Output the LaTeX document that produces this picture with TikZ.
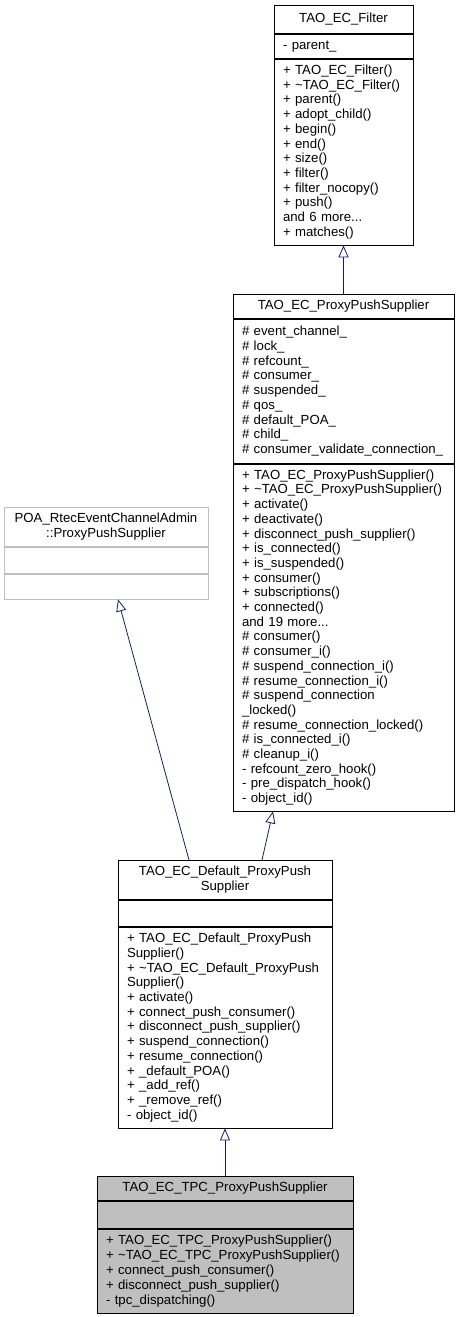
\documentclass[tikz,border=0pt]{standalone}
\usepackage{fontspec}
\setmainfont{Liberation Sans}
\usetikzlibrary{arrows.meta}
\definecolor{edgeblue}{HTML}{191970}
\definecolor{classgray}{HTML}{BFBFBF}

\begin{document}
\begin{tikzpicture}[x=1pt, y=-1pt,
	classpart/.style={draw=black, line width=0.8pt, anchor=north, inner xsep=9pt, inner ysep=0pt, font=\fontsize{13.2}{14.7}\selectfont},
	members/.style={classpart, text width=#1, align=left},
	inherit/.style={-{Triangle[open, length=12pt, width=10pt]}, draw=edgeblue, line width=0.8pt}]
	\useasboundingbox (0,0) rectangle (460,1317);
	
	%TAO_EC_Filter
	\node (filter title) at (343.5,5) [classpart, minimum width=139pt, minimum height=28pt]{TAO\_EC\_Filter};
	\node (filter attrs) at (filter title.south) [members=121pt, minimum height=24pt]{-~parent\_};
	\node (filter ops) at (filter attrs.south) [members=121pt, minimum height=186pt]{+~TAO\_EC\_Filter()\\ +~\textasciitilde TAO\_EC\_Filter()\\ +~parent()\\ +~adopt\_child()\\ +~begin()\\ +~end()\\ +~size()\\ +~filter()\\ +~filter\_nocopy()\\ +~push()\\ and 6 more...\\ +~matches()};
	
	%TAO_EC_ProxyPushSupplier
	\node (pps title) at (343.5,294) [classpart, minimum width=221pt, minimum height=24pt]{TAO\_EC\_ProxyPushSupplier};
	\node (pps attrs) at (pps title.south) [members=203pt, minimum height=144pt]{\#~event\_channel\_\\ \#~lock\_\\ \#~refcount\_\\ \#~consumer\_\\ \#~suspended\_\\ \#~qos\_\\ \#~default\_POA\_\\ \#~child\_\\ \#~\mbox{consumer\_validate\_connection\_}};
	\node (pps ops) at (pps attrs.south) [members=203pt, minimum height=347pt]{+~TAO\_EC\_ProxyPushSupplier()\\ +~\textasciitilde TAO\_EC\_ProxyPushSupplier()\\ +~activate()\\ +~deactivate()\\ +~disconnect\_push\_supplier()\\ +~is\_connected()\\ +~is\_suspended()\\ +~consumer()\\ +~subscriptions()\\ +~connected()\\ and 19 more...\\ \#~consumer()\\ \#~consumer\_i()\\ \#~suspend\_connection\_i()\\ \#~resume\_connection\_i()\\ \#~suspend\_connection\\ \_locked()\\ \#~resume\_connection\_locked()\\ \#~is\_connected\_i()\\ \#~cleanup\_i()\\ -~refcount\_zero\_hook()\\ -~pre\_dispatch\_hook()\\ -~object\_id()};
	
	%POA_RtecEventChannelAdmin::ProxyPushSupplier
	\node (poa title) at (106,507) [classpart, draw=classgray, minimum width=204pt, minimum height=39pt, align=center]{POA\_RtecEventChannelAdmin\\ ::ProxyPushSupplier};
	\node (poa attrs) at (poa title.south) [classpart, draw=classgray, minimum width=204pt, minimum height=26pt]{};
	\node (poa ops) at (poa attrs.south) [classpart, draw=classgray, minimum width=204pt, minimum height=25pt]{};
	
	%TAO_EC_Default_ProxyPushSupplier
	\node (default title) at (225,860) [classpart, minimum width=214pt, minimum height=39pt, align=center]{TAO\_EC\_Default\_ProxyPush\\ Supplier};
	\node (default attrs) at (default title.south) [classpart, minimum width=214pt, minimum height=26pt]{};
	\node (default ops) at (default attrs.south) [members=196pt, minimum height=201pt]{+~TAO\_EC\_Default\_ProxyPush\\ Supplier()\\ +~\textasciitilde TAO\_EC\_Default\_ProxyPush\\ Supplier()\\ +~activate()\\ +~connect\_push\_consumer()\\ +~disconnect\_push\_supplier()\\ +~suspend\_connection()\\ +~resume\_connection()\\ +~\_default\_POA()\\ +~\_add\_ref()\\ +~\_remove\_ref()\\ -~object\_id()};
	
	%TAO_EC_TPC_ProxyPushSupplier
	\node (tpc title) at (225,1176) [classpart, fill=classgray, minimum width=256pt, minimum height=24pt]{TAO\_EC\_TPC\_ProxyPushSupplier};
	\node (tpc attrs) at (tpc title.south) [classpart, fill=classgray, minimum width=256pt, minimum height=27pt]{};
	\node (tpc ops) at (tpc attrs.south) [members=238pt, fill=classgray, minimum height=84pt, font=\fontsize{13.2}{15.2}\selectfont]{+~TAO\_EC\_TPC\_ProxyPushSupplier()\\ +~\textasciitilde TAO\_EC\_TPC\_ProxyPushSupplier()\\ +~connect\_push\_consumer()\\ +~disconnect\_push\_supplier()\\ -~tpc\_dispatching()};
	
	%inheritance links
	\draw[inherit] (pps title.north) -- (filter ops.south);
	\draw[inherit] ([xshift=-36pt]default title.north) -- ([xshift=12pt]poa ops.south);
	\draw[inherit] ([xshift=37pt]default title.north) -- ([xshift=-70.5pt]pps ops.south);
	\draw[inherit] (tpc title.north) -- (default ops.south);
	
\end{tikzpicture}
\end{document}
